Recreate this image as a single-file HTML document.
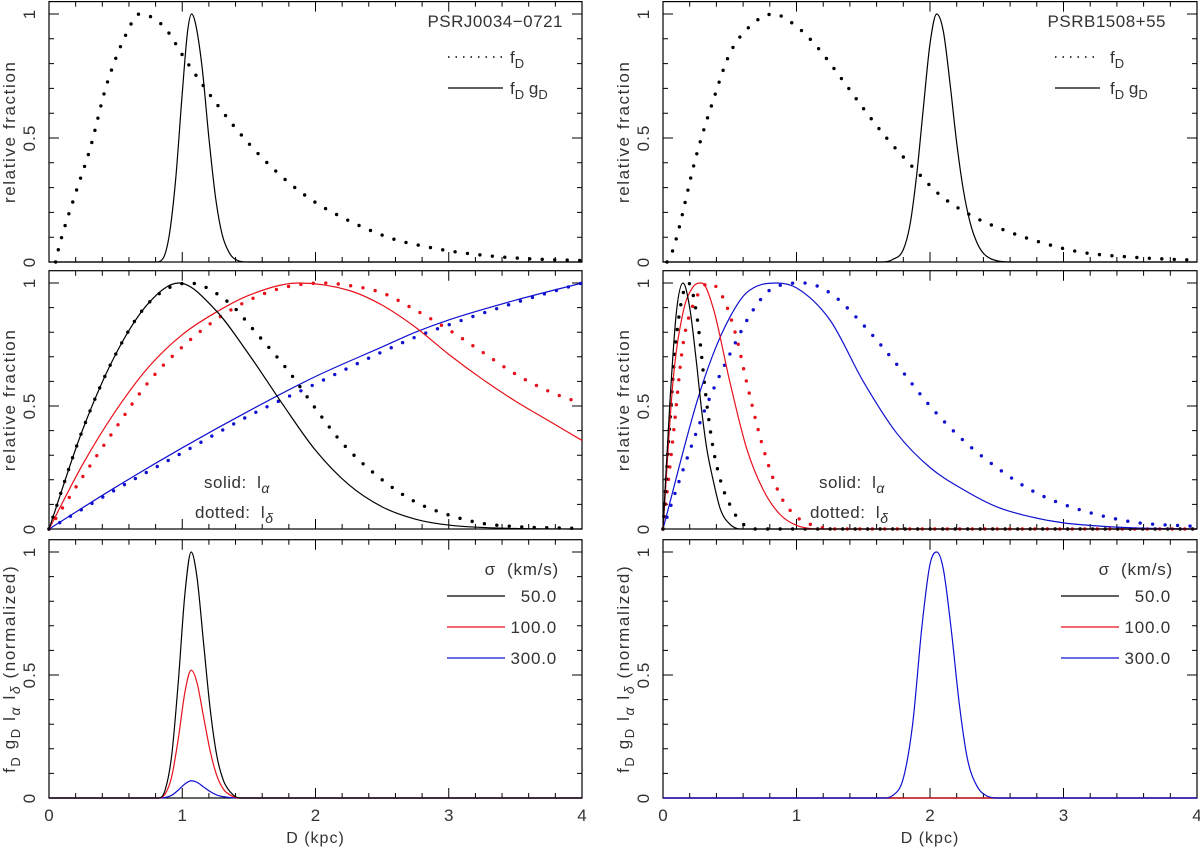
<!DOCTYPE html>
<html><head><meta charset="utf-8">
<style>
html,body{margin:0;padding:0;background:#fff;}
svg{display:block;font-family:"Liberation Sans",sans-serif;}
</style></head>
<body>
<svg id="fig" width="1200" height="848" viewBox="0 0 1200 848" xmlns="http://www.w3.org/2000/svg"></svg>
<script>
// ---------- data ----------
const tlFdX=[0.05,0.07,0.195,0.31,0.43,0.58,0.68,0.86,1.03,1.2,1.4,1.6,1.8,2.0,2.2,2.4,2.6,2.8,3.0,3.3,3.6,4.0];
const tlFdY=[0,0.05,0.27,0.46,0.71,0.92,1.0,0.95,0.81,0.68,0.54,0.42,0.32,0.24,0.18,0.13,0.09,0.065,0.045,0.025,0.013,0.006];
const tlFgX=[0,0.8,0.85,0.9,0.95,1.0,1.04,1.07,1.1,1.15,1.2,1.25,1.3,1.35,1.4,1.5,4.0];
const tlFgY=[0,0,0.01,0.1,0.33,0.68,0.93,1.0,0.96,0.78,0.5,0.26,0.11,0.04,0.01,0,0];
const trFdX=[0.03,0.075,0.25,0.375,0.5,0.65,0.825,1.0,1.15,1.35,1.5,1.675,1.875,2.075,2.3,2.55,2.825,3.125,3.5,3.85,4.0];
const trFdY=[0,0.05,0.43,0.65,0.84,0.95,1.0,0.95,0.87,0.73,0.62,0.5,0.38,0.27,0.19,0.13,0.08,0.04,0.02,0.01,0.008];
const trFgX=[0,1.65,1.72,1.8,1.85,1.9,1.95,2.0,2.05,2.1,2.15,2.2,2.25,2.3,2.35,2.4,2.5,2.6,4.0];
const trFgY=[0,0,0.01,0.05,0.15,0.35,0.62,0.88,1.0,0.93,0.72,0.48,0.29,0.16,0.08,0.035,0.005,0,0];
const mlKsX=[0,0.25,0.5,0.75,0.975,1.25,1.5,1.75,2.0,2.25,2.5,2.75,3.0,3.5,4.0];
const mlKsY=[0,0.4,0.71,0.92,1.0,0.89,0.71,0.51,0.32,0.18,0.09,0.04,0.016,0.002,0];
const mlKdX=[0,0.25,0.5,0.75,1.05,1.35,1.55,1.8,2.0,2.2,2.5,2.75,3.0,3.25,3.5,4.0];
const mlKdY=[0,0.4,0.71,0.92,1.0,0.92,0.8,0.64,0.49,0.35,0.2,0.11,0.057,0.023,0.01,0.002];
const mlRsX=[0,0.25,0.5,0.75,1.0,1.25,1.5,1.875,2.25,2.5,2.75,3.0,3.25,3.5,3.75,4.0];
const mlRsY=[0,0.26,0.48,0.66,0.79,0.88,0.95,1.0,0.97,0.91,0.82,0.71,0.61,0.52,0.44,0.36];
const mlRdX=[0,0.25,0.5,0.75,1.0,1.25,1.5,1.75,2.05,2.25,2.5,2.75,3.0,3.25,3.5,3.75,4.0];
const mlRdY=[0,0.21,0.41,0.6,0.74,0.85,0.93,0.98,1.0,0.99,0.96,0.89,0.81,0.72,0.63,0.56,0.51];
const mlBsX=[0,0.5,1.0,1.5,2.0,2.5,2.75,3.0,3.5,4.0];
const mlBsY=[0,0.17,0.33,0.48,0.62,0.74,0.8,0.85,0.93,1.0];
const mlBdX=[0,0.5,1.0,1.5,2.0,2.5,2.75,3.0,3.5,4.0];
const mlBdY=[0,0.16,0.31,0.46,0.59,0.72,0.78,0.83,0.92,1.0];
const mrKsX=[0,0.05,0.1,0.15,0.2,0.25,0.29,0.33,0.375,0.43,0.5,0.58,4.0];
const mrKsY=[0,0.5,0.88,1.0,0.9,0.68,0.48,0.32,0.2,0.08,0.02,0,0];
const mrKdX=[0,0.05,0.1,0.19,0.25,0.33,0.375,0.44,0.5,0.58,0.7,4.0];
const mrKdY=[0,0.42,0.78,1.0,0.88,0.5,0.33,0.18,0.1,0.03,0,0];
const mrRsX=[0,0.075,0.15,0.22,0.29,0.375,0.5,0.625,0.75,0.875,1.0,1.2,4.0];
const mrRsY=[0,0.6,0.88,0.98,1.0,0.9,0.6,0.33,0.16,0.06,0.015,0,0];
const mrRdX=[0,0.075,0.15,0.25,0.35,0.45,0.55,0.625,0.75,0.875,1.0,1.125,1.3,4.0];
const mrRdY=[0,0.37,0.75,0.94,1.0,0.94,0.78,0.6,0.33,0.14,0.05,0.015,0,0];
const mrBsX=[0,0.25,0.375,0.5,0.625,0.85,1.0,1.25,1.5,1.75,2.0,2.25,2.5,2.75,3.0,3.5,4.0];
const mrBsY=[0,0.51,0.71,0.86,0.96,1.0,0.98,0.85,0.6,0.39,0.25,0.16,0.09,0.05,0.025,0.005,0];
const mrBdX=[0,0.15,0.325,0.5,0.675,0.825,1.05,1.25,1.5,1.75,2.0,2.25,2.5,2.75,3.0,3.5,4.0];
const mrBdY=[0,0.24,0.5,0.71,0.89,0.98,1.0,0.96,0.83,0.67,0.5,0.36,0.25,0.16,0.1,0.03,0.01];
const blX=[0,0.82,0.87,0.92,0.97,1.02,1.067,1.11,1.16,1.21,1.26,1.31,1.36,1.43,1.5,4.0];
const blK=[0,0,0.03,0.17,0.47,0.83,1.0,0.9,0.63,0.36,0.17,0.07,0.025,0,0,0];
const blR=[0,0,0.015,0.085,0.24,0.43,0.52,0.47,0.33,0.19,0.09,0.035,0.012,0,0,0];
const blB=[0,0,0.002,0.011,0.032,0.057,0.07,0.064,0.045,0.026,0.012,0.005,0.002,0,0,0];
const brX=[0,1.65,1.72,1.8,1.87,1.94,2.0,2.05,2.1,2.16,2.22,2.28,2.35,2.42,2.5,4.0];
const brK=[0,0,0,0,0,0,0,0,0,0,0,0,0,0,0,0];
const brR=[0,0,0,0,0,0,0,0,0,0,0,0,0,0,0,0];
const brB=[0,0,0.01,0.08,0.3,0.7,0.95,1.0,0.93,0.68,0.38,0.16,0.05,0.01,0,0];
const xTicks=["0","1","2","3","4"];
const yTicks=["0","0.5","1"];
const sigmaLabels=["50.0","100.0","300.0"];

// ---------- drawing ----------
const NS="http://www.w3.org/2000/svg";
const svg=document.getElementById('fig');
const RED="#e8101a", BLUE="#1010d0", BLK="#000";
function mk(tag,attrs,parent){const e=document.createElementNS(NS,tag);for(const k in attrs)e.setAttribute(k,attrs[k]);(parent||svg).appendChild(e);return e;}

function makePanel(x0,x1,yZero,yOne){
  const ymax=1.05;
  const sx=d=>x0+(x1-x0)*d/4;
  const sy=v=>yZero-(yZero-yOne)*v;
  return {x0,x1,yZero,yTop:sy(ymax),sx,sy};
}
const panels={
  tl:makePanel(49,582,262,14), tr:makePanel(663,1197,262,14),
  ml:makePanel(49,582,529,283), mr:makePanel(663,1197,529,283),
  bl:makePanel(49,582,798,552), br:makePanel(663,1197,798,552)
};

function monoPath(P,xs,ys){
  const n=xs.length; const px=xs.map(P.sx), py=ys.map(P.sy);
  const d=[],m=new Array(n);
  for(let i=0;i<n-1;i++) d.push((py[i+1]-py[i])/(px[i+1]-px[i]));
  m[0]=d[0]; m[n-1]=d[n-2];
  for(let i=1;i<n-1;i++){ m[i]=(d[i-1]*d[i]<=0)?0:(d[i-1]+d[i])/2; }
  for(let i=0;i<n-1;i++){
    if(d[i]===0){m[i]=0;m[i+1]=0;continue;}
    const a=m[i]/d[i], b=m[i+1]/d[i], s=a*a+b*b;
    if(s>9){const t=3/Math.sqrt(s); m[i]=t*a*d[i]; m[i+1]=t*b*d[i];}
  }
  let s="M"+px[0].toFixed(2)+","+py[0].toFixed(2);
  for(let i=0;i<n-1;i++){
    const h=(px[i+1]-px[i])/3;
    s+=" C"+(px[i]+h).toFixed(2)+","+(py[i]+m[i]*h).toFixed(2)+" "+(px[i+1]-h).toFixed(2)+","+(py[i+1]-m[i+1]*h).toFixed(2)+" "+px[i+1].toFixed(2)+","+py[i+1].toFixed(2);
  }
  return s;
}
function curve(P,xs,ys,color,dotted,name,g){
  const a={d:monoPath(P,xs,ys),fill:"none",stroke:color};
  if(dotted){a["stroke-width"]=3.4;a["stroke-dasharray"]="0 12.5";a["stroke-linecap"]="round";}
  else {a["stroke-width"]=1.2;}
  const e=mk('path',a,g);
  
  
  return e;
}

function frame(P,key,showX){
  const g=mk('g',{});
  
  
  const fr=mk('rect',{x:P.x0,y:P.yTop,width:P.x1-P.x0,height:P.yZero-P.yTop,fill:"none",stroke:"#000","stroke-width":1.2},g);
  
  
  let t="";
  for(let i=0;i<=20;i++){
    const x=P.sx(i*0.2), L=(i%5===0)?10:5;
    t+=`M${x},${P.yZero}v${-L}M${x},${P.yTop}v${L}`;
  }
  for(let i=0;i<=10;i++){
    const y=P.sy(i*0.1), L=(i%5===0)?10:5;
    t+=`M${P.x0},${y}h${L}M${P.x1},${y}h${-L}`;
  }
  const tk=mk('path',{d:t,stroke:"#000","stroke-width":1,fill:"none"},g);
  
  
  yTicks.forEach((lab,i)=>{
    const v=i*0.5, y=P.sy(v), x=P.x0-14;
    const e=mk('text',{x:x,y:y,transform:`rotate(-90 ${x} ${y})`,"text-anchor":"middle","font-size":17,"letter-spacing":1,fill:"#333"},g);
    e.textContent=lab;
    
    
  });
  if(showX){
    xTicks.forEach((lab,i)=>{
      const e=mk('text',{x:P.sx(i),y:P.yZero+23,"text-anchor":"middle","font-size":17,fill:"#333"},g);
      e.textContent=lab;
      
      
    });
    const e=mk('text',{x:(P.x0+P.x1)/2,y:P.yZero+45,"text-anchor":"middle","font-size":16,"letter-spacing":1,fill:"#333"},g);
    e.textContent="D (kpc)";
    
    
  }
  return g;
}
function yTitle(P,html,len){
  const x=P.x0-34, y=(P.yZero+P.yTop)/2;
  const e=mk('text',{x:x,y:y,transform:`rotate(-90 ${x} ${y})`,"text-anchor":"middle","font-size":17,"letter-spacing":1.6,fill:"#333"});
  e.innerHTML=html;
  
  
}
function txt(x,y,html,name,size,anchor,ls){
  const e=mk('text',{x:x,y:y,"font-size":size||16,fill:"#333","text-anchor":anchor||"start","letter-spacing":ls||0});
  e.innerHTML=html;
  
  
  return e;
}
function legLine(x1,x2,y,color,dotted,name){
  const a={x1,x2,y1:y,y2:y,stroke:color};
  if(dotted){a["stroke-width"]=1.5;a["stroke-dasharray"]="1.5 6";} else a["stroke-width"]=1.2;
  const e=mk('line',a);
  
  
}
const sub=(s)=>`<tspan dy="5" font-size="13">${s}</tspan><tspan dy="-5"> </tspan>`;
const subG=(s)=>`<tspan dy="5" font-size="14" font-style="italic">${s}</tspan><tspan dy="-5"> </tspan>`;
const FD=`f${sub("D")}`, GD=`g${sub("D")}`;

["tl","tr"].forEach(k=>{const P=panels[k];frame(P,k,false);yTitle(P,"relative fraction");});
{
  const P=panels.tl;
  curve(P,tlFdX,tlFdY,BLK,true,"fD-dotted-curve");
  curve(P,tlFgX,tlFgY,BLK,false,"fDgD-solid-curve");
  txt(563,27,"PSRJ0034−0721","pulsar-name",17,"end",0.5);
  legLine(448,503,57,BLK,true,"legend-line-fD");
  txt(510,63,FD,"legend-label-fD",17);
  legLine(448,503,88,BLK,false,"legend-line-fDgD");
  txt(510,94,FD+" "+GD,"legend-label-fDgD",17);
}
{
  const P=panels.tr;
  curve(P,trFdX,trFdY,BLK,true,"fD-dotted-curve");
  curve(P,trFgX,trFgY,BLK,false,"fDgD-solid-curve");
  txt(1166,27,"PSRB1508+55","pulsar-name",17,"end",0.5);
  legLine(1055,1100,57,BLK,true,"legend-line-fD");
  txt(1110,63,FD,"legend-label-fD",17);
  legLine(1055,1100,88,BLK,false,"legend-line-fDgD");
  txt(1110,94,FD+" "+GD,"legend-label-fDgD",17);
}
["ml","mr"].forEach(k=>{const P=panels[k];frame(P,k,false);yTitle(P,"relative fraction");});
{
  const P=panels.ml;
  curve(P,mlBdX,mlBdY,BLUE,true,"l-delta-300-curve");
  curve(P,mlRdX,mlRdY,RED,true,"l-delta-100-curve");
  curve(P,mlKdX,mlKdY,BLK,true,"l-delta-50-curve");
  curve(P,mlBsX,mlBsY,BLUE,false,"l-alpha-300-curve");
  curve(P,mlRsX,mlRsY,RED,false,"l-alpha-100-curve");
  curve(P,mlKsX,mlKsY,BLK,false,"l-alpha-50-curve");
  txt(204,488,"solid:&#160; l"+subG("α"),"solid-note",17,"start",0.5);
  txt(195,518,"dotted:&#160; l"+subG("δ"),"dotted-note",17,"start",0.5);
}
{
  const P=panels.mr;
  curve(P,mrBdX,mrBdY,BLUE,true,"l-delta-300-curve");
  curve(P,mrRdX,mrRdY,RED,true,"l-delta-100-curve");
  curve(P,mrKdX,mrKdY,BLK,true,"l-delta-50-curve");
  curve(P,mrBsX,mrBsY,BLUE,false,"l-alpha-300-curve");
  curve(P,mrRsX,mrRsY,RED,false,"l-alpha-100-curve");
  curve(P,mrKsX,mrKsY,BLK,false,"l-alpha-50-curve");
  txt(819,488,"solid:&#160; l"+subG("α"),"solid-note",17,"start",0.5);
  txt(810,518,"dotted:&#160; l"+subG("δ"),"dotted-note",17,"start",0.5);
}
const ylab2=`f${sub("D")}g${sub("D")}l${subG("α")}l${subG("δ")}(normalized)`;
["bl","br"].forEach(k=>{const P=panels[k];frame(P,k,true);yTitle(P,ylab2);});
function sigmaLegend(off){
  txt(559+off,575,"σ&#160;&#160;(km/s)","legend-title",17,"end",0.8);
  const cols=[BLK,RED,BLUE];
  sigmaLabels.forEach((s,i)=>{
    const y=596+i*31;
    legLine(447+off,505+off,y,cols[i],false,"legend-line-sigma-"+s);
    txt(557+off,y+6,s,"legend-label-sigma-"+s,17,"end",0.8);
  });
}
{
  const P=panels.bl;
  curve(P,blX,blB,BLUE,false,"sigma-300-curve");
  curve(P,blX,blR,RED,false,"sigma-100-curve");
  curve(P,blX,blK,BLK,false,"sigma-50-curve");
  sigmaLegend(0);
}
{
  const P=panels.br;
  curve(P,brX,brK,BLK,false,"sigma-50-curve");
  curve(P,brX,brR,RED,false,"sigma-100-curve");
  curve(P,brX,brB,BLUE,false,"sigma-300-curve");
  sigmaLegend(614);
}
</script>
</body></html>
